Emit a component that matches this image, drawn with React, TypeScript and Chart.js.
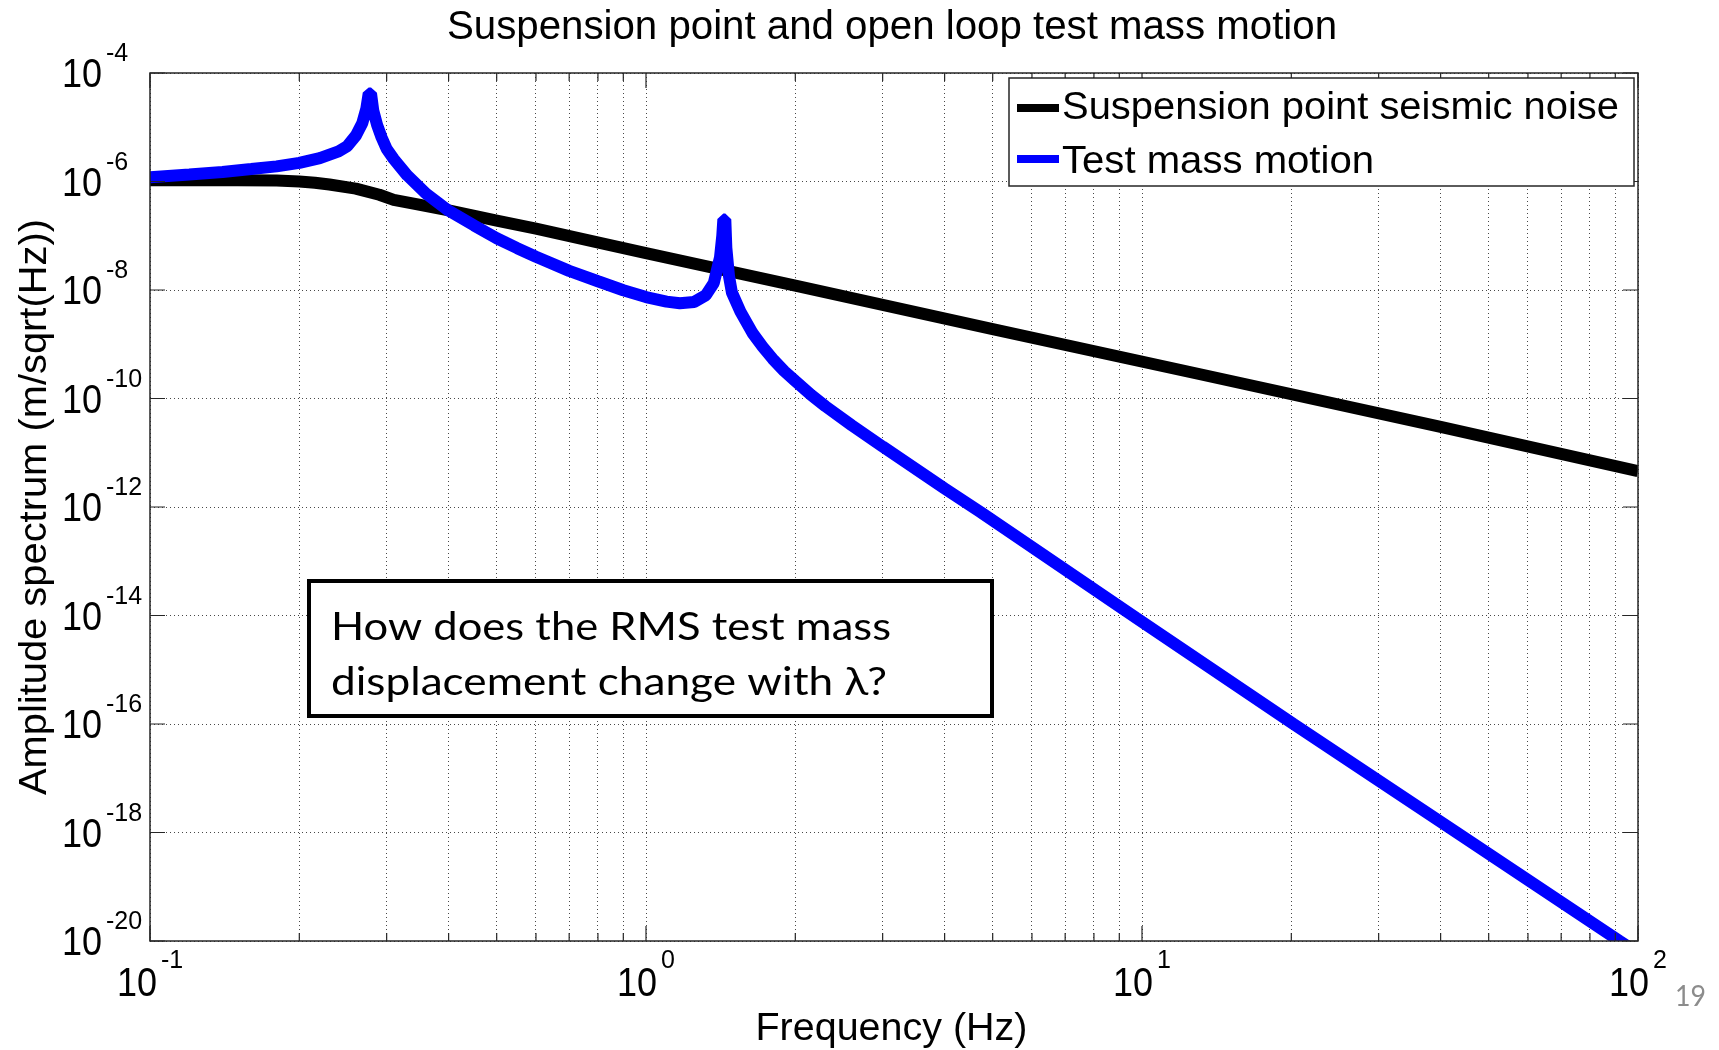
import { useEffect, useRef } from 'react';
import { Chart, registerables } from 'chart.js';

Chart.register(...registerables);

// ---------- data ----------
const freqSuspension = [0.1, 0.15, 0.18, 0.2, 0.215, 0.23, 0.26, 0.29, 0.31, 0.34, 0.4, 0.5, 0.6, 0.807, 1.0, 2.0, 5.0, 13.1, 40, 100];
const ampSuspension = [1.05e-6, 1.05e-6, 1.04e-6, 1.0e-6, 9.5e-7, 8.8e-7, 7.4e-7, 5.7e-7, 4.6e-7, 3.9e-7, 2.95e-7, 1.9e-7, 1.35e-7, 7.4e-8, 4.8e-8, 1.2e-8, 1.9e-9, 2.8e-10, 3.0e-11, 4.6e-12];

const freqTestMass = [
  0.1, 0.12, 0.14, 0.16, 0.18, 0.2, 0.22, 0.24, 0.25, 0.26, 0.268, 0.273, 0.276, 0.279, 0.282, 0.287, 0.293, 0.3,
  0.31, 0.33, 0.36, 0.4, 0.45, 0.5, 0.55, 0.6, 0.7, 0.8, 0.9, 1.0, 1.1, 1.17, 1.25, 1.32, 1.37, 1.41, 1.425, 1.432, 1.445,
  1.452, 1.47, 1.49, 1.55, 1.64, 1.72, 1.8, 1.9, 2.0, 2.15, 2.3, 2.6, 3.0, 4.0, 4.73, 9.74, 20.2, 43.1, 91.8, 100,
];
const ampTestMass = [
  1.2e-6, 1.35e-6, 1.5e-6, 1.7e-6, 1.9e-6, 2.2e-6, 2.7e-6, 3.6e-6, 4.5e-6, 7.0e-6, 1.2e-5, 2.2e-5, 4.2e-5, 4.2e-5, 2.0e-5, 1.1e-5, 6.5e-6, 4.0e-6,
  2.6e-6, 1.3e-6, 6.0e-7, 2.9e-7, 1.55e-7, 9.0e-8, 5.9e-8, 4.1e-8, 2.25e-8, 1.45e-8, 9.9e-9, 7.4e-9, 6.1e-9, 5.7e-9, 6.0e-9, 8.0e-9, 1.35e-8, 4.0e-8, 1.0e-7, 2.0e-7, 2.0e-7,
  6.0e-8, 1.8e-8, 9.0e-9, 4.0e-9, 1.6e-9, 8.9e-10, 5.4e-10, 3.2e-10, 2.1e-10, 1.17e-10, 7.2e-11, 3.2e-11, 1.3e-11, 2.2e-12, 8.0e-13, 9.0e-15, 1.0e-16, 1.0e-18, 1.0e-20, 6.0e-21,
];

const seriesLabels = ['Suspension point seismic noise', 'Test mass motion'];
const seriesColors = ['#000000', '#0000ff'];

const xGridValues = [
  0.1, 0.2, 0.3, 0.4, 0.5, 0.6, 0.7, 0.8, 0.9,
  1, 2, 3, 4, 5, 6, 7, 8, 9,
  10, 20, 30, 40, 50, 60, 70, 80, 90, 100,
];
const xMajorTicks = [0.1, 1, 10, 100];
const xTickExponents = ['-1', '0', '1', '2'];
const yMajorTicks = [1e-4, 1e-6, 1e-8, 1e-10, 1e-12, 1e-14, 1e-16, 1e-18, 1e-20];
const yTickExponents = ['-4', '-6', '-8', '-10', '-12', '-14', '-16', '-18', '-20'];

const titleText = 'Suspension point and open loop test mass motion';
const xAxisTitle = 'Frequency (Hz)';
const yAxisTitle = 'Amplitude spectrum (m/sqrt(Hz))';
const noteLines = ['How does the RMS test mass', 'displacement change with λ?'];
const pageNumber = '19';

// ---------- helpers ----------
const MFONT = '"Liberation Sans", Arial, Helvetica, sans-serif';
const NFONT = 'Lato, "Open Sans", sans-serif';

function fitText(
  ctx: CanvasRenderingContext2D,
  text: string,
  x: number,
  y: number,
  font: string,
  width: number | null,
  align: CanvasTextAlign,
) {
  ctx.save();
  ctx.font = font;
  const w = ctx.measureText(text).width;
  const sx = width ? width / w : 1;
  ctx.translate(x, y);
  ctx.scale(sx, 1);
  ctx.textAlign = align;
  ctx.textBaseline = 'alphabetic';
  ctx.fillText(text, 0, 0);
  ctx.restore();
}

const decorPlugin = {
  id: 'matlabDecor',
  afterDatasetsDraw(chart: any) {
    const ctx: CanvasRenderingContext2D = chart.ctx;
    const { left, right, top, bottom } = chart.chartArea;
    const xs = chart.scales.x;
    const ys = chart.scales.y;
    const axisColor = '#262626';

    ctx.save();
    // frame
    ctx.strokeStyle = axisColor;
    ctx.lineWidth = 1.5;
    ctx.setLineDash([]);
    ctx.strokeRect(left, top, right - left, bottom - top);

    // x ticks (inward, bottom and top)
    ctx.lineWidth = 1.2;
    xGridValues.forEach((v) => {
      const px = xs.getPixelForValue(v);
      const len = xMajorTicks.includes(v) ? 15 : 8;
      ctx.beginPath();
      ctx.moveTo(px, bottom);
      ctx.lineTo(px, bottom - len);
      ctx.moveTo(px, top);
      ctx.lineTo(px, top + len);
      ctx.stroke();
    });
    // y ticks (inward, left and right)
    yMajorTicks.forEach((v) => {
      const py = ys.getPixelForValue(v);
      ctx.beginPath();
      ctx.moveTo(left, py);
      ctx.lineTo(left + 15, py);
      ctx.moveTo(right, py);
      ctx.lineTo(right - 15, py);
      ctx.stroke();
    });

    ctx.fillStyle = '#000';
    const baseFont = `40px ${MFONT}`;
    const expFont = `25px ${MFONT}`;

    // y tick labels
    yMajorTicks.forEach((v, i) => {
      const py = ys.getPixelForValue(v);
      fitText(ctx, '10', 102, py + 14, baseFont, 40, 'right');
      fitText(ctx, yTickExponents[i], 106, py - 12, expFont, null, 'left');
    });

    // x tick labels
    xMajorTicks.forEach((v, i) => {
      const px = xs.getPixelForValue(v);
      ctx.font = expFont;
      const we = ctx.measureText(xTickExponents[i]).width;
      const wb = 40;
      const gap = 4;
      const start = px - (wb + gap + we) / 2;
      fitText(ctx, '10', start, 996, baseFont, wb, 'left');
      fitText(ctx, xTickExponents[i], start + wb + gap, 968, expFont, null, 'left');
    });

    // title
    fitText(ctx, titleText, 892, 39, `40px ${MFONT}`, 890, 'center');
    // x axis title
    fitText(ctx, xAxisTitle, 891.5, 1040, `39px ${MFONT}`, 272, 'center');
    // y axis title
    ctx.save();
    ctx.translate(46, 507);
    ctx.rotate(-Math.PI / 2);
    fitText(ctx, yAxisTitle, 0, 0, `38px ${MFONT}`, 576, 'center');
    ctx.restore();

    // legend
    const lx0 = 1009, ly0 = 78, lx1 = 1634, ly1 = 186;
    ctx.fillStyle = '#fff';
    ctx.fillRect(lx0, ly0, lx1 - lx0, ly1 - ly0);
    ctx.strokeStyle = axisColor;
    ctx.lineWidth = 1.5;
    ctx.strokeRect(lx0, ly0, lx1 - lx0, ly1 - ly0);
    const swY = [108, 159];
    const txtY = [119, 173];
    const txtW = [557, 312];
    seriesLabels.forEach((lab, i) => {
      ctx.strokeStyle = seriesColors[i];
      ctx.lineWidth = 8;
      ctx.beginPath();
      ctx.moveTo(1017, swY[i]);
      ctx.lineTo(1059, swY[i]);
      ctx.stroke();
      ctx.fillStyle = '#000';
      fitText(ctx, lab, 1062, txtY[i], `39px ${MFONT}`, txtW[i], 'left');
    });

    // annotation box
    const bx0 = 309, by0 = 581, bx1 = 992, by1 = 716;
    ctx.fillStyle = '#fff';
    ctx.fillRect(bx0, by0, bx1 - bx0, by1 - by0);
    ctx.strokeStyle = '#000';
    ctx.lineWidth = 4;
    ctx.strokeRect(bx0, by0, bx1 - bx0, by1 - by0);
    ctx.fillStyle = '#000';
    fitText(ctx, noteLines[0], 331, 640, `38px ${NFONT}`, 560, 'left');
    fitText(ctx, noteLines[1], 331, 695, `38px ${NFONT}`, 556, 'left');

    // page number
    ctx.fillStyle = '#8c8c8c';
    fitText(ctx, pageNumber, 1675, 1006, `28px ${NFONT}`, 31, 'left');
    ctx.restore();
  },
};

export default function App() {
  const canvasRef = useRef<HTMLCanvasElement | null>(null);

  useEffect(() => {
    document.body.style.margin = '0';
    const canvas = canvasRef.current;
    if (!canvas) return;
    const chart = new Chart(canvas, {
      type: 'line',
      data: {
        datasets: [
          {
            label: seriesLabels[0],
            data: freqSuspension.map((f, i) => ({ x: f, y: ampSuspension[i] })),
            borderColor: seriesColors[0],
            backgroundColor: seriesColors[0],
            borderWidth: 12,
            pointRadius: 0,
            tension: 0,
            fill: false,
            borderJoinStyle: 'round',
            borderCapStyle: 'butt',
            order: 2,
          },
          {
            label: seriesLabels[1],
            data: freqTestMass.map((f, i) => ({ x: f, y: ampTestMass[i] })),
            borderColor: seriesColors[1],
            backgroundColor: seriesColors[1],
            borderWidth: 12,
            pointRadius: 0,
            tension: 0,
            fill: false,
            borderJoinStyle: 'bevel',
            borderCapStyle: 'butt',
            order: 1,
          },
        ],
      },
      options: {
        animation: false,
        responsive: false,
        devicePixelRatio: 1,
        events: [],
        layout: { padding: { left: 150, top: 73, right: 81, bottom: 109 } },
        plugins: {
          legend: { display: false },
          title: { display: false },
          tooltip: { enabled: false },
        },
        scales: {
          x: {
            type: 'logarithmic',
            min: 0.1,
            max: 100,
            afterBuildTicks: (s: any) => {
              s.ticks = xGridValues.map((v) => ({ value: v }));
            },
            ticks: { display: false },
            grid: { color: 'rgba(40,40,40,0.85)', lineWidth: 1, drawTicks: false },
            border: { display: false, dash: [1, 3] },
          },
          y: {
            type: 'logarithmic',
            min: 1e-20,
            max: 1e-4,
            afterBuildTicks: (s: any) => {
              s.ticks = yMajorTicks.map((v) => ({ value: v }));
            },
            ticks: { display: false },
            grid: { color: 'rgba(40,40,40,0.85)', lineWidth: 1, drawTicks: false },
            border: { display: false, dash: [1, 3] },
          },
        },
      } as any,
      plugins: [decorPlugin],
    });
    return () => chart.destroy();
  }, []);

  return (
    <div style={{ position: 'absolute', left: 0, top: 0, width: 1719, height: 1050, background: '#fff' }}>
      <canvas ref={canvasRef} width={1719} height={1050} style={{ display: 'block' }} />
    </div>
  );
}
